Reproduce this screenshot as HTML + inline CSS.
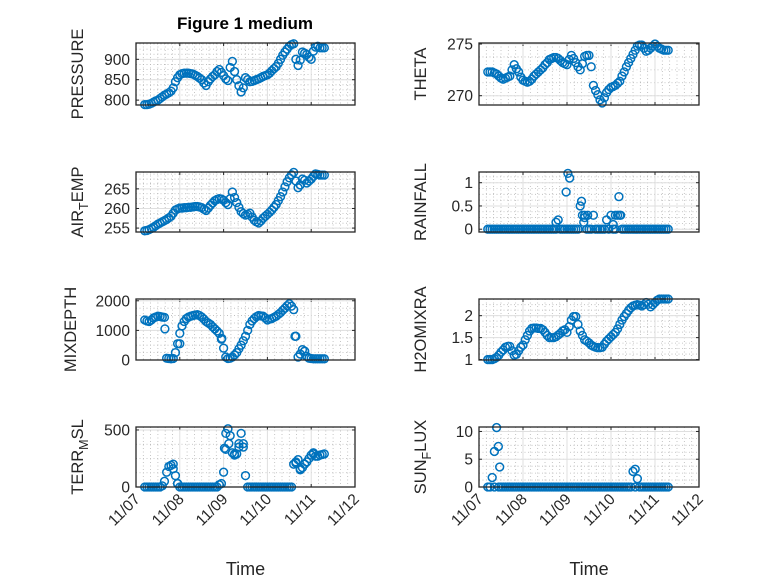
<!DOCTYPE html>
<html><head><meta charset="utf-8"><style>
body{margin:0;background:#fff;}
svg{display:block;font-family:"Liberation Sans",sans-serif;}
</style></head><body>
<svg id="fig" width="778" height="583" viewBox="0 0 778 583"></svg>
<script>
const T=[0.2,0.3,0.4,0.5,0.6,0.7,0.8,0.9,1.0,1.1,1.2,1.3,1.4,1.5,1.6,1.7,1.8,1.9,2.0,2.1,2.2,2.3,2.4,2.5,2.6,2.7,2.8,2.9,3.0,3.1,3.2,3.3,3.4,3.5,3.6,3.7,3.8,3.9,4.0,4.1,4.2,4.3];
const T2=[0.25,0.35,0.45,0.55,0.65,0.75,0.85,0.95,1.05,1.15,1.25,1.35,1.45,1.55,1.65,1.75,1.85,1.95,2.05,2.15,2.25,2.35,2.45,2.55,2.65,2.75,2.85,2.95,3.05,3.15,3.25,3.35,3.45,3.55,3.65,3.75,3.85,3.95,4.05,4.15,4.25];
const xTickLabels=["11/07","11/08","11/09","11/10","11/11","11/12"];
const pressure=[789,790,795,800,808,815,822,845,862,866,866,864,858,850,836,852,862,875,860,848,895,850,820,855,845,848,852,858,862,872,882,900,918,932,938,885,918,912,900,930,928,928];
const pressure2=[789,792,798,804,812,818,830,855,865,866,865,861,854,842,845,858,870,868,852,880,870,835,830,850,846,850,855,860,866,877,890,910,925,936,900,898,915,905,920,932,928];
const theta=[272.3,272.3,272.1,271.7,271.7,271.9,273.0,272.3,271.5,271.3,271.6,272.1,272.5,273.0,273.5,273.7,273.6,273.2,273.0,273.9,273.2,272.5,273.8,273.9,271.0,270.1,269.3,270.3,270.8,271.0,271.4,272.3,273.2,274.0,274.8,274.9,274.3,274.6,275.0,274.6,274.4,274.4];
const theta2=[272.3,272.2,271.9,271.6,271.8,272.5,272.6,271.8,271.4,271.4,271.9,272.3,272.7,273.2,273.6,273.7,273.4,273.1,273.5,273.6,272.8,273.1,273.9,272.8,270.5,269.6,269.8,270.6,270.9,271.2,271.9,272.8,273.6,274.4,274.9,274.6,274.4,274.8,274.8,274.5,274.4];
const airTemp=[254.3,254.6,255.2,256.0,256.6,257.2,258.0,259.6,260.1,260.2,260.3,260.4,260.5,260.2,259.5,260.8,262.0,262.5,262.1,261.0,264.2,261.5,259.2,258.3,258.8,257.0,256.3,257.5,258.5,259.6,261.0,263.0,265.5,267.8,269.2,265.3,267.5,266.5,267.5,268.8,268.5,268.5];
const airTemp2=[254.4,254.9,255.6,256.3,256.9,257.6,258.8,259.9,260.1,260.2,260.3,260.5,260.4,259.8,260.1,261.4,262.3,262.4,261.5,262.5,262.8,260.3,258.7,258.5,257.8,256.6,256.8,258.0,259.0,260.3,262.0,264.2,266.8,268.6,267.0,266.0,267.2,267.0,268.2,268.7,268.5];
const rainfall=[0,0,0,0,0,0,0,0,0,0,0,0,0,0,0,0,0.2,0,0,0,0,0.5,0.3,0,0.3,0,0,0.2,0.3,0,0.3,0,0,0,0,0,0,0,0,0,0,0];
const rainfall2=[0,0,0,0,0,0,0,0,0,0,0,0,0,0,0,0,0,0,0,0,0,0.3,0,0,0,0,0,0,0,0.3,0,0,0,0,0,0,0,0,0,0,0];
const rainExtraT=[1.75,1.98,2.02,2.06,2.33,2.38,2.4,2.47,3.05,3.1,3.18,3.22];
const rainExtraV=[0.15,0.8,1.2,1.1,0.6,0.15,0.25,0.3,0.1,0.3,0.7,0.3];
const mixDepth=[1350,1300,1420,1480,1450,60,40,250,900,1300,1450,1500,1530,1450,1300,1200,1050,900,400,50,100,250,500,800,1200,1400,1500,1480,1350,1400,1480,1600,1750,1900,1700,100,350,120,50,40,40,40];
const mixDepth2=[1320,1350,1450,1470,1440,50,50,550,1150,1400,1480,1520,1500,1380,1250,1120,980,700,100,60,170,380,650,1000,1320,1460,1490,1420,1380,1440,1540,1680,1830,1820,800,200,300,60,40,40,40];
const mixExtraT=[0.66,1.0,1.96,3.63,3.85];
const mixExtraV=[1050,550,730,800,300];
const h2o=[1.0,1.0,1.05,1.17,1.28,1.3,1.1,1.2,1.33,1.55,1.71,1.72,1.71,1.62,1.5,1.5,1.56,1.65,1.62,1.9,1.98,1.65,1.45,1.38,1.3,1.27,1.28,1.42,1.52,1.62,1.8,1.98,2.12,2.22,2.25,2.22,2.3,2.2,2.3,2.38,2.38,2.38];
const h2o2=[1.0,1.02,1.1,1.22,1.3,1.2,1.12,1.28,1.45,1.65,1.72,1.71,1.68,1.55,1.5,1.52,1.6,1.68,1.75,1.98,1.8,1.55,1.42,1.33,1.28,1.27,1.35,1.47,1.57,1.7,1.9,2.05,2.18,2.24,2.24,2.25,2.26,2.25,2.35,2.38,2.38];
const terr=[0,0,0,0,10,130,190,100,0,0,0,0,0,0,0,0,0,20,130,510,300,290,470,100,0,0,0,0,0,0,0,0,0,0,200,240,170,220,280,270,280,290];
const terr2=[0,0,0,0,50,180,160,30,0,0,0,0,0,0,0,0,0,30,330,450,290,350,380,0,0,0,0,0,0,0,0,0,0,0,220,160,200,250,290,270,285];
const terrExtraT=[0.85,0.95,2.05,2.02,2.12,2.25,2.35,2.45,3.65,3.75,4.05];
const terrExtraV=[200,30,470,340,380,280,380,350,210,150,300];
const sun=[0,1.7,10.7,0,0,0,0,0,0,0,0,0,0,0,0,0,0,0,0,0,0,0,0,0,0,0,0,0,0,0,0,0,0,2.8,1.5,0,0,0,0,0,0,0];
const sun2=[0,0,0,0,0,0,0,0,0,0,0,0,0,0,0,0,0,0,0,0,0,0,0,0,0,0,0,0,0,0,0,0,0,0,0,0,0,0,0,0,0];
const sunExtraT=[0.35,0.44,0.47,3.55];
const sunExtraV=[6.4,7.3,3.6,3.2];

const NS="http://www.w3.org/2000/svg";
const svg=document.getElementById('fig');
function mk(tag,attrs,parent){const e=document.createElementNS(NS,tag);for(const k in attrs)e.setAttribute(k,attrs[k]);(parent||svg).appendChild(e);return e;}

function panel(o){
  const g=mk('g',{});
  
  
  const L=o.x,R=o.x+o.w,Tp=o.y,B=o.y+o.h;
  const xs=d=>L+d/5*o.w;
  const ys=v=>B-(v-o.ymin)/(o.ymax-o.ymin)*o.h;
  mk('rect',{x:L,y:Tp,width:o.w,height:o.h,fill:'#fff'},g);
  for(let i=0;i<=30;i++){if(i%6===0)continue;const X=xs(i/6);
    mk('line',{x1:X,x2:X,y1:Tp,y2:B,stroke:'#b8b8b8','stroke-width':0.8,'stroke-dasharray':'1 2.5'},g);}
  const step=o.ticks[1]-o.ticks[0];
  for(let v=o.ticks[0]-step;v<=o.ymax+step;v+=step/4){
    if(v<o.ymin||v>o.ymax)continue;const Y=ys(v);
    mk('line',{x1:L,x2:R,y1:Y,y2:Y,stroke:'#b8b8b8','stroke-width':0.8,'stroke-dasharray':'1 2.5'},g);}
  for(let i=0;i<=5;i++){const X=xs(i);
    mk('line',{x1:X,x2:X,y1:Tp,y2:B,stroke:'#dfdfdf','stroke-width':1},g);
    mk('line',{x1:X,x2:X,y1:B,y2:B-3,stroke:'#262626','stroke-width':1},g);
    mk('line',{x1:X,x2:X,y1:Tp,y2:Tp+3,stroke:'#262626','stroke-width':1},g);}
  o.ticks.forEach((v,i)=>{const Y=ys(v);
    mk('line',{x1:L,x2:R,y1:Y,y2:Y,stroke:'#dfdfdf','stroke-width':1},g);
    mk('line',{x1:L,x2:L+3,y1:Y,y2:Y,stroke:'#262626','stroke-width':1},g);
    mk('line',{x1:R,x2:R-3,y1:Y,y2:Y,stroke:'#262626','stroke-width':1},g);
    const t=mk('text',{x:L-6,y:Y+5.5,'text-anchor':'end','font-size':15.5,fill:'#262626'},g);
    
    
    t.textContent=o.tickLabels[i];});
  const allT=T.concat(T2.slice(0,o.data2.length),o.extraT||[]), allV=o.data.concat(o.data2.slice(0,T2.length),o.extraV||[]);
  allT.forEach((d,i)=>{const c=mk('circle',{cx:xs(d),cy:ys(allV[i]),r:3.9,fill:'none',stroke:'#0072BD','stroke-width':1.5},g);
    
    });
  mk('rect',{x:L,y:Tp,width:o.w,height:o.h,fill:'none',stroke:'#262626','stroke-width':1.3},g);
  const yl=mk('text',{transform:`translate(${L-o.labelOff},${Tp+o.h/2}) rotate(-90)`,'text-anchor':'middle','font-size':16.5,fill:'#262626'},g);
  
  
  if(o.sub){const p=o.label.split('|');
    yl.appendChild(document.createTextNode(p[0]));
    const ts=mk('tspan',{'font-size':12.5,dy:5},yl);ts.textContent=o.sub;
    const ts2=mk('tspan',{dy:-5},yl);ts2.textContent=p[1];}
  else yl.textContent=o.label;
  if(o.xlabels){
    for(let i=0;i<=5;i++){const X=xs(i);
      const t=mk('text',{transform:`translate(${X+5},${B+13}) rotate(-45)`,'text-anchor':'end','font-size':15.5,fill:'#262626'},g);
      
      
      t.textContent=xTickLabels[i];}
    const xt=mk('text',{x:L+o.w/2,y:575,'text-anchor':'middle','font-size':18,fill:'#262626'},g);
    
    
    xt.textContent='Time';
  }
}
const LX=136,LW=219,RX=479,RW=220;
panel({name:'pressure',x:LX,y:43,w:LW,h:62,ymin:788,ymax:940,ticks:[800,850,900],tickLabels:['800','850','900'],data:pressure,data2:pressure2,label:'PRESSURE',labelOff:53});
panel({name:'theta',x:RX,y:43,w:RW,h:62,ymin:269.1,ymax:275.1,ticks:[270,275],tickLabels:['270','275'],data:theta,data2:theta2,label:'THETA',labelOff:53});
panel({name:'air-temp',x:LX,y:172,w:LW,h:60,ymin:254,ymax:269.3,ticks:[255,260,265],tickLabels:['255','260','265'],data:airTemp,data2:airTemp2,label:'AIR|EMP',sub:'T',labelOff:53});
panel({name:'rainfall',x:RX,y:172,w:RW,h:60,ymin:-0.06,ymax:1.23,ticks:[0,0.5,1],tickLabels:['0','0.5','1'],data:rainfall,data2:rainfall2,extraT:rainExtraT,extraV:rainExtraV,label:'RAINFALL',labelOff:53});
panel({name:'mixdepth',x:LX,y:299,w:LW,h:61,ymin:0,ymax:2060,ticks:[0,1000,2000],tickLabels:['0','1000','2000'],data:mixDepth,data2:mixDepth2,extraT:mixExtraT,extraV:mixExtraV,label:'MIXDEPTH',labelOff:60});
panel({name:'h2omixra',x:RX,y:299,w:RW,h:61,ymin:0.99,ymax:2.38,ticks:[1,1.5,2],tickLabels:['1','1.5','2'],data:h2o,data2:h2o2,label:'H2OMIXRA',labelOff:53});
panel({name:'terr-msl',x:LX,y:427,w:LW,h:60,ymin:0,ymax:526,ticks:[0,500],tickLabels:['0','500'],data:terr,data2:terr2,extraT:terrExtraT,extraV:terrExtraV,label:'TERR|SL',sub:'M',labelOff:53,xlabels:true});
panel({name:'sun-flux',x:RX,y:427,w:RW,h:60,ymin:0,ymax:10.8,ticks:[0,5,10],tickLabels:['0','5','10'],data:sun,data2:sun2,extraT:sunExtraT,extraV:sunExtraV,label:'SUN|LUX',sub:'F',labelOff:53,xlabels:true});
const title=mk('text',{x:245,y:29,'text-anchor':'middle','font-size':17,'font-weight':'bold',fill:'#000'});


title.textContent='Figure 1 medium';
</script>
</body></html>
